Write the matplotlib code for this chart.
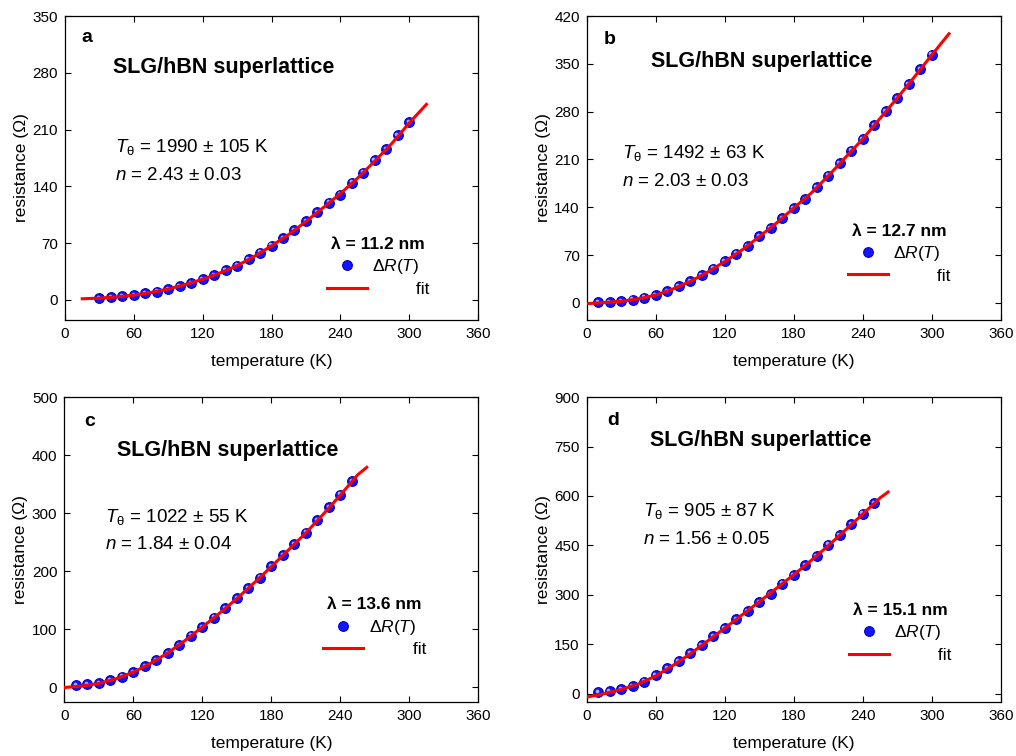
import matplotlib
matplotlib.use("Agg")
import matplotlib.pyplot as plt
from matplotlib.lines import Line2D
from matplotlib.transforms import offset_copy

plt.rcParams['font.family'] = ['Liberation Sans', 'DejaVu Sans']
plt.rcParams['mathtext.fontset'] = 'custom'
plt.rcParams['mathtext.rm'] = 'Liberation Sans'
plt.rcParams['mathtext.it'] = 'Liberation Sans:italic'
plt.rcParams['mathtext.bf'] = 'Liberation Sans:bold'

# panel a, lambda = 11.2 nm
temp_a = [30, 40, 50, 60, 70, 80, 90, 100, 110, 120, 130, 140, 150, 160,
          170, 180, 190, 200, 210, 220, 230, 240, 250, 260, 270, 280, 290, 300]
res_a = [2.1, 2.8, 4.4, 6.0, 8.0, 10.1, 13.4, 17.0, 20.7, 25.2, 30.1, 36.3,
         42.0, 49.8, 58.1, 66.7, 76.2, 85.6, 97.1, 108.2, 119.7, 129.6,
         144.4, 156.7, 172.0, 185.6, 202.8, 219.2]
fit_temp_a = [15, 30, 45, 60, 75, 90, 105, 120, 135, 150, 165, 180, 195, 210,
              225, 240, 255, 270, 285, 300, 315]
fit_res_a = [1.2, 2.0, 3.5, 5.8, 9.0, 13.3, 18.8, 25.3, 33.0, 42.0, 53.5, 66.5,
             80.5, 96.5, 113.5, 131, 150, 171, 193, 218, 241]

# panel b, lambda = 12.7 nm
temp_b = [10, 20, 30, 40, 50, 60, 70, 80, 90, 100, 110, 120, 130, 140, 150,
          160, 170, 180, 190, 200, 210, 220, 230, 240, 250, 260, 270, 280, 290, 300]
res_b = [0.9, 0.9, 2.4, 4.8, 7.7, 11.7, 17.5, 24.3, 31.6, 40.3, 50.1, 60.8,
         72.0, 83.6, 97.3, 109.9, 124.5, 139.1, 151.8, 169.3, 186.3, 204.4,
         222.8, 239.9, 260.7, 280.3, 299.3, 320.1, 342.0, 363.5]
fit_temp_b = [0, 15, 30, 45, 60, 75, 90, 105, 120, 135, 150, 165, 180, 195,
              210, 225, 240, 255, 270, 285, 300, 315]
fit_res_b = [-1, 0.5, 2.5, 6, 11.5, 20.5, 31.5, 45, 60.5, 77.5, 97, 117, 139,
             160.5, 186, 213, 240, 270, 300, 331, 363, 394]

# panel c, lambda = 13.6 nm
temp_c = [10, 20, 30, 40, 50, 60, 70, 80, 90, 100, 110, 120, 130, 140, 150,
          160, 170, 180, 190, 200, 210, 220, 230, 240, 250]
res_c = [4.6, 5.2, 7.5, 12.1, 18.9, 27.0, 36.7, 47.6, 59.7, 73.5, 89.0, 103.9,
         120.0, 136.6, 153.3, 170.5, 188.9, 209.0, 227.3, 246.8, 266.4, 287.6,
         310.6, 331.8, 355.3]
fit_temp_c = [0, 15, 30, 45, 60, 75, 90, 105, 120, 135, 150, 165, 180, 195,
              210, 225, 240, 255, 263]
fit_res_c = [0, 2.5, 7, 15, 26.5, 41.5, 59.5, 81, 104, 128, 153, 180, 208, 237,
             266, 298, 331, 366, 379]

# panel d, lambda = 15.1 nm
temp_d = [10, 20, 30, 40, 50, 60, 70, 80, 90, 100, 110, 120, 130, 140, 150,
          160, 170, 180, 190, 200, 210, 220, 230, 240, 250]
res_d = [4, 8, 14, 24, 37, 57, 77, 100, 123, 147, 174, 199, 226, 251, 277,
         303, 334, 359, 391, 418, 452, 482, 514, 546, 579]
fit_temp_d = [0, 15, 30, 45, 60, 75, 90, 105, 120, 135, 150, 165, 180, 195,
              210, 225, 240, 255, 262]
fit_res_d = [-10, 0, 13, 30, 54, 86, 121, 160, 199, 239, 279, 320, 361, 404,
             449, 497, 545, 594, 612]

x_ticks = [0, 60, 120, 180, 240, 300, 360]
y_ticks_a = [0, 70, 140, 210, 280, 350]
y_ticks_b = [0, 70, 140, 210, 280, 350, 420]
y_ticks_c = [0, 100, 200, 300, 400, 500]
y_ticks_d = [0, 150, 300, 450, 600, 750, 900]

BLUE = '#1414ff'
RED = '#ff0000'


def draw_panel(ax, letter, temps, res, fit_t, fit_r, yticks, t_theta, n_exp,
               lam, pos):
    ax.plot(temps, res, ls='none', marker='o', ms=7, mfc=BLUE, mec='#0000c8',
            mew=0.8, zorder=2)
    # little shine on the spheres
    shine = offset_copy(ax.transData, fig=ax.figure, x=-1.3, y=1.3, units='dots')
    ax.plot(temps, res, ls='none', marker='o', ms=2.6, mfc='#b0b0ff',
            mec='none', transform=shine, zorder=2.5)
    ax.plot(fit_t, fit_r, color=RED, lw=2.2, zorder=3)

    ax.set_xlim(0, 360)
    ax.set_ylim(-25, yticks[-1])
    ax.set_xticks(x_ticks)
    ax.set_yticks(yticks)
    ax.tick_params(direction='in', top=True, right=True, length=4, width=0.8,
                   labelsize=11, pad=5)
    for sp in ax.spines.values():
        sp.set_linewidth(0.9)
    ax.set_xlabel('temperature (K)', fontsize=12.5, labelpad=9.5)
    ax.set_ylabel('resistance (Ω)', fontsize=12.5, labelpad=2.5)

    (lx, ly), (tx, ty), (px, py), (gx, gy) = pos
    ax.text(lx, ly, letter, transform=ax.transAxes, fontsize=14,
            fontweight='bold', va='center')
    ax.text(tx, ty, 'SLG/hBN superlattice', transform=ax.transAxes,
            fontsize=15.5, fontweight='bold', va='center')
    ax.text(px, py, r'$T_{\mathrm{\theta}}$ = ' + t_theta,
            transform=ax.transAxes, fontsize=13.5, va='center')
    ax.text(px, py - 0.093, r'$n$ = ' + n_exp,
            transform=ax.transAxes, fontsize=13.5, va='center')

    handles = [Line2D([], [], ls='none', marker='o', ms=7, mfc=BLUE,
                      mec='#0000c8', mew=0.8),
               Line2D([], [], color=RED, lw=2.2)]
    labels = [r'$\Delta R(T)$', '         fit']
    ax.legend(handles, labels, title=lam,
              title_fontproperties={'weight': 'bold', 'size': 12.5},
              fontsize=12.5, frameon=False, loc='upper left',
              bbox_to_anchor=(gx, gy - 0.01), borderpad=0, borderaxespad=0,
              handlelength=2.3, handletextpad=0.3, labelspacing=0.3)


fig = plt.figure(figsize=(10.16, 7.56), dpi=100)
ax_a = fig.add_axes([0.0640, 0.5767, 0.4065, 0.4021])
ax_b = fig.add_axes([0.5775, 0.5767, 0.4075, 0.4021])
ax_c = fig.add_axes([0.0633, 0.0714, 0.4075, 0.4034])
ax_d = fig.add_axes([0.5775, 0.0714, 0.4075, 0.4034])

draw_panel(ax_a, 'a', temp_a, res_a, fit_temp_a, fit_res_a, y_ticks_a,
           '1990 ± 105 K', '2.43 ± 0.03', 'λ = 11.2 nm',
           [(0.040, 0.931), (0.115, 0.830), (0.121, 0.570), (0.634, 0.283)])
draw_panel(ax_b, 'b', temp_b, res_b, fit_temp_b, fit_res_b, y_ticks_b,
           '1492 ± 63 K', '2.03 ± 0.03', 'λ = 12.7 nm',
           [(0.042, 0.924), (0.155, 0.852), (0.085, 0.549), (0.631, 0.326)])
draw_panel(ax_c, 'c', temp_c, res_c, fit_temp_c, fit_res_c, y_ticks_c,
           '1022 ± 55 K', '1.84 ± 0.04', 'λ = 13.6 nm',
           [(0.048, 0.919), (0.127, 0.826), (0.098, 0.608), (0.626, 0.353)])
draw_panel(ax_d, 'd', temp_d, res_d, fit_temp_d, fit_res_d, y_ticks_d,
           '905 ± 87 K', '1.56 ± 0.05', 'λ = 15.1 nm',
           [(0.049, 0.922), (0.153, 0.859), (0.135, 0.627), (0.634, 0.334)])

fig.savefig('out.png', dpi=100)
